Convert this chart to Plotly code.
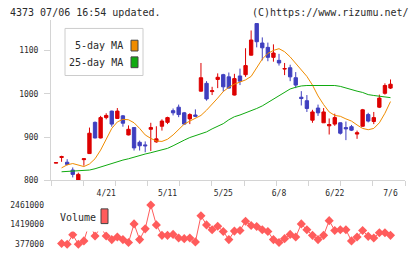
import plotly.graph_objects as go

W, H = 420, 259

dates = ["4/10","4/11","4/12","4/13","4/14","4/17","4/18","4/19","4/20","4/21",
         "4/24","4/25","4/26","4/27","4/28","5/1","5/2","5/8","5/9","5/10",
         "5/11","5/12","5/15","5/16","5/17","5/18","5/19","5/22","5/23","5/24",
         "5/25","5/26","5/29","5/30","5/31","6/1","6/2","6/5","6/6","6/7",
         "6/8","6/9","6/12","6/13","6/14","6/15","6/16","6/19","6/20","6/21",
         "6/22","6/23","6/26","6/27","6/28","6/29","6/30","7/3","7/4","7/5","7/6"]
label_dates = ["4/21", "5/11", "5/25", "6/8", "6/22", "7/6"]

open_ = [840,853,842,824,800,848,862,934,898,945,960,943,949,905,922,888,882,918,889,925,
         934,961,969,956,942,951,1006,1024,1005,1033,1044,1039,997,1041,1044,1089,1162,1117,1107,1084,
         1077,1057,1060,1037,992,984,939,967,933,926,930,933,922,924,907,925,952,936,969,1001,1013]
high = [841,857,849,830,818,851,922,936,949,955,961,967,951,927,923,892,890,933,925,941,
        947,966,975,958,955,964,1071,1029,1016,1047,1046,1049,1046,1058,1105,1146,1162,1130,1118,1114,
        1092,1071,1067,1050,1006,997,963,975,967,943,954,934,936,928,915,965,956,958,998,1024,1033]
low = [840,843,835,807,798,834,861,897,897,941,924,942,924,904,869,869,865,868,887,915,
       930,950,946,929,930,946,1005,984,997,1013,1005,1012,996,1020,1039,1088,1107,1077,1075,1074,
       1065,1043,1029,1013,973,958,933,949,933,906,926,906,893,914,896,924,934,930,967,998,1011]
close = [841,855,837,814,814,850,909,898,945,950,930,960,932,918,875,880,880,922,896,937,
         945,956,952,930,952,948,1037,988,1007,1038,1016,1013,1035,1029,1065,1124,1120,1106,1084,1094,
         1071,1058,1039,1020,989,966,958,956,958,929,945,909,919,916,910,963,937,945,990,1019,1022]

ma5 = [None,829,836,839,836,832,838,850,870,895,920,935,941,940,933,920,905,897,891,890,
       895,905,918,930,937,943,950,962,975,990,1005,1015,1022,1027,1032,1040,1060,1080,1093,1100,
       1104,1097,1085,1070,1055,1040,1020,995,975,958,950,948,942,937,928,920,917,920,933,955,982]
ma25 = [None,820,821,822,822,823,824,827,831,836,839,843,847,850,854,858,861,864,867,870,
        874,880,887,893,899,903,907,912,919,925,931,940,947,951,956,960,966,972,980,988,
        995,1004,1011,1015,1018,1019,1019,1019,1019,1019,1019,1017,1013,1010,1006,1003,998,996,994,993,991]

volume = [None,412000,377000,881000,377000,551000,1500000,811000,1300000,811000,620000,759000,620000,464000,1454000,
          620000,1193000,2461000,1402000,846000,846000,898000,707000,672000,707000,499000,1888000,1402000,1141000,1332000,
          1054000,620000,1072000,1106000,1593000,1367000,1315000,1141000,1054000,620000,464000,672000,898000,759000,1454000,
          1141000,846000,620000,846000,1627000,1106000,1141000,1141000,551000,759000,1106000,794000,707000,985000,985000,846000]
vol_ticks = [377000, 1419000, 2461000]

idx = list(range(len(dates)))
label_pos = [dates.index(d) for d in label_dates]

RED = "#dd0000"
BLUE = "#3f3fbf"
ORANGE = "#f08c00"
GREEN = "#10aa10"
VOLC = "#ff5c5c"
AXC = "#d4d4d4"
TXT = "#2a2a2a"
FONT = "DejaVu Sans Mono"

def px_x(p): return p / W
def px_y(p): return 1 - p / H

fig = go.Figure()
fig.add_trace(go.Candlestick(
    x=idx, open=open_, high=high, low=low, close=close,
    increasing=dict(line=dict(color=RED, width=1), fillcolor=RED),
    decreasing=dict(line=dict(color=BLUE, width=1), fillcolor=BLUE),
    whiskerwidth=0, xaxis="x", yaxis="y", showlegend=False, hoverinfo="skip"))
fig.add_trace(go.Scatter(x=idx, y=ma5, mode="lines", line=dict(color=ORANGE, width=1),
                         xaxis="x", yaxis="y", showlegend=False, hoverinfo="skip"))
fig.add_trace(go.Scatter(x=idx, y=ma25, mode="lines", line=dict(color=GREEN, width=1),
                         xaxis="x", yaxis="y", showlegend=False, hoverinfo="skip"))
fig.add_trace(go.Scatter(x=idx, y=volume, mode="lines+markers", connectgaps=False,
                         line=dict(color=VOLC, width=1),
                         marker=dict(symbol="diamond", size=7, color=VOLC),
                         xaxis="x2", yaxis="y2", showlegend=False, hoverinfo="skip"))

xr = [-0.9, 62.6]
xdom = [px_x(51), px_x(405)]
y_top_px, y_bot_px = 20, 184
ymin = 800
ymax = 800 + (y_bot_px - y_top_px) * 100 / 44.2
vb_top, vb_bot = 204, 256
vpp = 52100
vmin = 377000 - (vb_bot - 249) * vpp
vmax = 377000 + (249 - vb_top) * vpp

tickfont = dict(family=FONT, size=8, color=TXT)

fig.update_layout(
    width=W, height=H, margin=dict(l=0, r=0, t=0, b=0), autosize=False,
    paper_bgcolor="white", plot_bgcolor="white",
    boxgap=0.14,
    xaxis=dict(domain=xdom, range=xr, anchor="y", rangeslider=dict(visible=False),
               showgrid=False, zeroline=False, showline=True, linecolor=AXC, linewidth=1,
               ticks="outside", ticklen=5, tickcolor=AXC, tickmode="linear",
               tick0=xr[0], dtick=(xr[1] - xr[0]) / 11, showticklabels=False),
    yaxis=dict(domain=[px_y(y_bot_px), px_y(y_top_px)], range=[ymin, ymax], anchor="x",
               showgrid=False, zeroline=False, showline=True, linecolor=AXC, linewidth=1,
               ticks="outside", ticklen=6, tickcolor=AXC, tickmode="array",
               tickvals=[800, 900, 1000, 1100], tickfont=tickfont, ticklabelstandoff=4),
    xaxis2=dict(domain=xdom, range=xr, anchor="y2", side="top",
                showgrid=False, zeroline=False, showline=False, ticks="",
                tickmode="array", tickvals=label_pos, ticktext=label_dates,
                tickfont=tickfont, ticklabelstandoff=1),
    yaxis2=dict(domain=[px_y(vb_bot), px_y(vb_top)], range=[vmin, vmax], anchor="x2",
                showgrid=False, zeroline=False, showline=False, ticks="",
                tickmode="array", tickvals=vol_ticks, ticktext=[str(v) for v in vol_ticks],
                tickfont=tickfont, ticklabelstandoff=6),
)

shapes = []
shapes.append(dict(type="rect", xref="paper", yref="paper", layer="above",
                   x0=px_x(65), x1=px_x(143), y0=px_y(77), y1=px_y(29),
                   line=dict(color="#cccccc", width=1), fillcolor="white"))
shapes.append(dict(type="rect", xref="paper", yref="paper", layer="above",
                   x0=px_x(131), x1=px_x(138), y0=px_y(52), y1=px_y(41),
                   line=dict(color="#444444", width=1), fillcolor=ORANGE))
shapes.append(dict(type="rect", xref="paper", yref="paper", layer="above",
                   x0=px_x(131), x1=px_x(138), y0=px_y(69), y1=px_y(58),
                   line=dict(color="#444444", width=1), fillcolor=GREEN))
shapes.append(dict(type="rect", xref="paper", yref="paper", layer="above",
                   x0=px_x(56), x1=px_x(111), y0=px_y(236), y1=px_y(211),
                   line=dict(width=0), fillcolor="white"))
shapes.append(dict(type="rect", xref="paper", yref="paper", layer="above",
                   x0=px_x(101), x1=px_x(108), y0=px_y(228), y1=px_y(213),
                   line=dict(color="#444444", width=1), fillcolor=VOLC))
fig.update_layout(shapes=shapes)

lf = dict(family=FONT, size=10, color=TXT)
ann = [
    dict(text="4373 07/06 16:54 updated.", x=px_x(8), y=px_y(12.5), xanchor="left", yanchor="middle"),
    dict(text="(C)https://www.rizumu.net/", x=px_x(411), y=px_y(12.5), xanchor="right", yanchor="middle"),
    dict(text="5-day MA", x=px_x(125), y=px_y(46.5), xanchor="right", yanchor="middle"),
    dict(text="25-day MA", x=px_x(125), y=px_y(63.5), xanchor="right", yanchor="middle"),
    dict(text="Volume", x=px_x(58), y=px_y(221.5), xanchor="left", yanchor="middle"),
]
for a in ann:
    a.update(xref="paper", yref="paper", showarrow=False, font=lf)
fig.update_layout(annotations=ann)

fig.write_html("out.html")
